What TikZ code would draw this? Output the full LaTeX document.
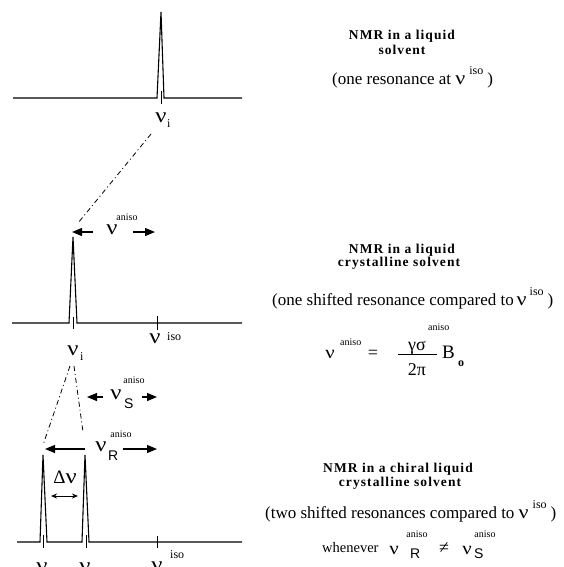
\documentclass[tikz,border=0pt]{standalone}
\usepackage{graphicx}
\usepackage{fontspec}
\setmainfont{Liberation Serif}
\newfontfamily\sansf{Liberation Sans}
\usetikzlibrary{arrows.meta}
\newcommand{\nuglyph}{\scalebox{1.3}[1.12]{ν}}
\newcommand{\raisesup}[2][10pt]{\raisebox{#1}{\fontsize{12}{12}\selectfont #2}}
\newcommand{\bignu}{{\fontsize{17}{17}\selectfont\nuglyph}}
\begin{document}
\begin{tikzpicture}[x=1pt,y=-1pt,
  spec/.style={line width=1.1pt, line join=miter, miter limit=20},
  tickline/.style={line width=1pt},
  dd/.style={line width=0.8pt, dash pattern=on 5pt off 3pt on 1pt off 3pt},
  arr/.style={line width=1.2pt, -{Triangle[length=10pt,width=8pt]}},
  dbl/.style={line width=1pt, {Stealth[length=6pt,width=5pt]}-{Stealth[length=6pt,width=5pt]}},
  lbl/.style={inner sep=0pt, anchor=base, font=\fontsize{19}{19}\selectfont},
  sub/.style={inner sep=0pt, anchor=base west, font=\fontsize{12}{12}\selectfont},
  subsans/.style={inner sep=0pt, anchor=base west, font=\sansf\fontsize{14}{14}\selectfont},
  sup/.style={inner sep=0pt, anchor=base west, font=\fontsize{12}{12}\selectfont},
  supsmall/.style={inner sep=0pt, anchor=base, font=\fontsize{10}{10}\selectfont},
  title/.style={inner sep=0pt, anchor=base, font=\fontsize{13.5}{13.5}\selectfont\bfseries\addfontfeature{LetterSpace=8}},
  txt/.style={inner sep=0pt, anchor=base west, font=\fontsize{17}{17}\selectfont},
  eq/.style={inner sep=0pt, anchor=base, font=\fontsize{18}{18}\selectfont},
  eqnu/.style={inner sep=0pt, anchor=base, font=\fontsize{16}{16}\selectfont}
]
\useasboundingbox (0,0) rectangle (564,567);
\clip (0,0) rectangle (564,567);

% ---------- top spectrum ----------
\draw[spec] (13,98) -- (157,98) -- (161,12) -- (164,98) -- (242,98);
\draw[tickline] (161,91) -- (161,104);
\node[lbl] (nuA) at (161,123) {\nuglyph};
\node[sub] (iA) at (167,128) {i};

% ---------- middle spectrum ----------
\draw[spec] (12,323) -- (69,323) -- (73,237) -- (77,323) -- (242,323);
\draw[tickline] (73,317) -- (73,329);
\draw[tickline] (157,316) -- (157,330);
\node[lbl] (nuB) at (73,355) {\nuglyph};
\node[sub] (iB) at (80,360) {i};
\node[lbl] (nuisoB) at (155,343) {\nuglyph};
\node[sup] (isoB) at (167,340) {iso};

% anisotropic shift arrow
\coordinate (anL) at (72,232);
\coordinate (anR) at (155,232);
\node[lbl] (nuan) at (112,234) {\nuglyph};
\node[supsmall] (anlab) at (127,220) {aniso};
\draw[arr] (93,232) -- (anL);
\draw[arr] (133,232) -- (anR);

% dash-dot connector top -> middle
\coordinate (cTa) at (151,134);
\coordinate (cTb) at (78,223);
\draw[dd] (cTa) -- (cTb);

% ---------- bottom spectrum ----------
\draw[spec] (17,542) -- (40,542) -- (43,455) -- (47,542) -- (82,542) -- (85,455) -- (89,542) -- (242,542);
\draw[tickline] (43,535) -- (43,548);
\draw[tickline] (86,535) -- (86,548);
\draw[tickline] (157,536) -- (157,548);

% connectors middle -> bottom
\coordinate (cMa) at (70,366);
\coordinate (cMb) at (74,366);
\coordinate (cRl) at (43,445);
\coordinate (cSl) at (83,432);
\draw[dd] (cMa) -- (cRl);
\draw[dd] (cMb) -- (cSl);

% nu_S arrow
\node[lbl] (nuS) at (116,399) {\nuglyph};
\node[subsans] (Sl) at (124,408) {S};
\node[supsmall] (anS) at (134,383) {aniso};
\draw[arr] (103,397) -- (87,397);
\draw[arr] (142,397) -- (157,397);

% nu_R arrow
\node[lbl] (nuR) at (101,451) {\nuglyph};
\node[subsans] (Rl) at (108,460) {R};
\node[supsmall] (anR2) at (121,437) {aniso};
\draw[arr] (85,449) -- (45,449);
\draw[arr] (123,449) -- (157,449);

% Delta nu
\node[inner sep=0pt, anchor=base, font=\fontsize{19}{19}\selectfont] (dnu) at (65,483) {Δ\nuglyph};
\draw[dbl] (51,496) -- (78,496);

% bottom labels (cut by the page edge, as in the original)
\node[lbl] (nuRb) at (42,572) {\nuglyph};
\node[subsans] (Rb) at (49,580) {R};
\node[lbl] (nuSb) at (85,572) {\nuglyph};
\node[subsans] (Sb) at (93,580) {S};
\node[lbl] (nuisoC) at (157,571) {\nuglyph};
\node[sup] (isoC) at (170,558) {iso};

% ---------- right-hand texts ----------
\node[title] (t1a) at (402,40) {NMR in a liquid};
\node[title] (t1b) at (402,55) {solvent};
\node[txt] (d1) at (332,85) {(one resonance at \bignu\hspace{4pt}\raisesup{iso}\hspace{4pt})};

\node[title] (t2a) at (402,253) {NMR in a liquid};
\node[title] (t2b) at (399,266) {crystalline solvent};
\node[txt] (d2) at (272,305) {(one shifted resonance compared to\,\bignu\hspace{3pt}\raisesup{iso}\hspace{4pt})};

% equation
\node[eqnu] (eqnu) at (330,358) {\nuglyph};
\node[sup] (eqan) at (340,345) {\fontsize{10}{10}\selectfont aniso};
\node[eq] (eqeq) at (373,358) {=};
\node[eq] (eqgs) at (417,350) {γσ};
\node[sup] (eqan2) at (428,330) {\fontsize{10}{10}\selectfont aniso};
\draw[line width=1pt] (398,354) -- (437,354);
\node[eq] (eq2p) at (417,375) {2π};
\node[inner sep=0pt, anchor=base west, font=\fontsize{19}{19}\selectfont] (eqB) at (442,358) {B};
\node[inner sep=0pt, anchor=base west, font=\bfseries\fontsize{12}{12}\selectfont] (eqo) at (458,366) {o};

\node[title] (t3a) at (398,472) {NMR in a chiral liquid};
\node[title] (t3b) at (400,486) {crystalline solvent};
\node[txt] (d3) at (265,518) {(two shifted resonances compared to \bignu\hspace{4pt}\raisesup{iso}\hspace{4pt})};

\node[inner sep=0pt, anchor=base west, font=\fontsize{14.5}{14.5}\selectfont] (wh) at (322,552) {whenever};
\node[eqnu] (wnR) at (394,554) {\nuglyph};
\node[subsans] (wR) at (410,558) {R};
\node[supsmall] (wanR) at (417,537) {aniso};
\node[eq] (wne) at (444,553) {≠};
\node[eqnu] (wnS) at (467,554) {\nuglyph};
\node[subsans] (wS) at (474,558) {S};
\node[supsmall] (wanS) at (485,537) {aniso};
\end{tikzpicture}
\end{document}
